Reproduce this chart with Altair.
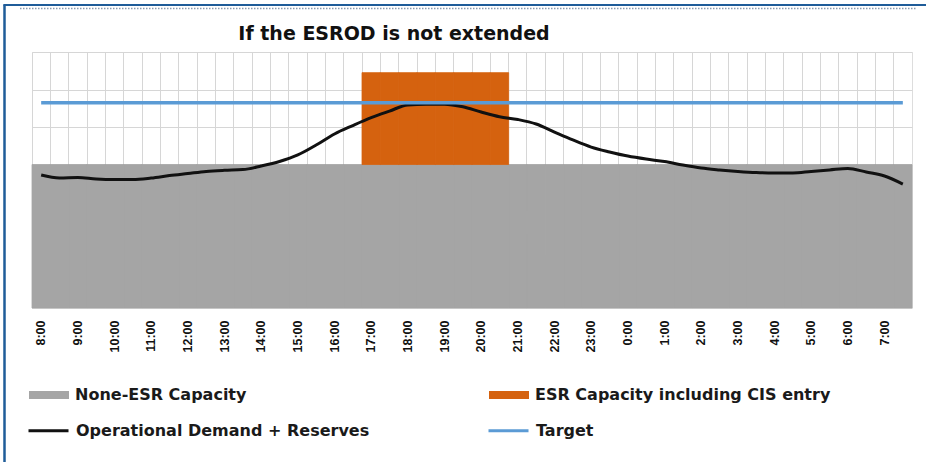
import altair as alt
import pandas as pd

times = ["8:00", "8:30", "9:00", "9:30", "10:00", "10:30", "11:00", "11:30",
         "12:00", "12:30", "13:00", "13:30", "14:00", "14:30", "15:00", "15:30",
         "16:00", "16:30", "17:00", "17:30", "18:00", "18:30", "19:00", "19:30",
         "20:00", "20:30", "21:00", "21:30", "22:00", "22:30", "23:00", "23:30",
         "0:00", "0:30", "1:00", "1:30", "2:00", "2:30", "3:00", "3:30",
         "4:00", "4:30", "5:00", "5:30", "6:00", "6:30", "7:00", "7:30"]

non_esr_capacity = [40000, 40000, 40000, 40000, 40000, 40000, 40000, 40000,
                    40000, 40000, 40000, 40000, 40000, 40000, 40000, 40000,
                    40000, 40000, 40000, 40000, 40000, 40000, 40000, 40000,
                    40000, 40000, 40000, 40000, 40000, 40000, 40000, 40000,
                    40000, 40000, 40000, 40000, 40000, 40000, 40000, 40000,
                    40000, 40000, 40000, 40000, 40000, 40000, 40000, 40000]

esr_capacity = [0, 0, 0, 0, 0, 0, 0, 0,
                0, 0, 0, 0, 0, 0, 0, 0,
                0, 0, 4900, 4900, 4900, 4900, 4900, 4900,
                4900, 4900, 0, 0, 0, 0, 0, 0,
                0, 0, 0, 0, 0, 0, 0, 0,
                0, 0, 0, 0, 0, 0, 0, 0]

demand = [39440, 39280, 39310, 39230, 39200, 39200, 39280, 39410,
          39520, 39630, 39690, 39730, 39920, 40160, 40510, 41040,
          41630, 42080, 42500, 42850, 43180, 43220, 43220, 43080,
          42800, 42550, 42400, 42160, 41730, 41310, 40930, 40670,
          40450, 40290, 40160, 39970, 39810, 39710, 39630, 39570,
          39550, 39550, 39630, 39710, 39790, 39600, 39390, 38960]

target = [43300, 43300, 43300, 43300, 43300, 43300, 43300, 43300,
          43300, 43300, 43300, 43300, 43300, 43300, 43300, 43300,
          43300, 43300, 43300, 43300, 43300, 43300, 43300, 43300,
          43300, 43300, 43300, 43300, 43300, 43300, 43300, 43300,
          43300, 43300, 43300, 43300, 43300, 43300, 43300, 43300,
          43300, 43300, 43300, 43300, 43300, 43300, 43300, 43300]

area_names = ["None-ESR Capacity", "ESR Capacity including CIS entry"]
area_colors = ["#a5a5a5", "#d5620f"]
line_names = ["Operational Demand + Reserves", "Target"]
line_colors = ["#111111", "#5b9bd5"]
grid_values = [40000, 42000, 44000, 46000]
title_text = "If the ESROD is not extended"

Y_MIN = 32350
Y_MAX = 46000
GRID = "#d6d6d6"

# ---- tables ----
gray_df = pd.DataFrame({"time": times, "series": area_names[0],
                        "base": Y_MIN, "top": non_esr_capacity})
orange_rows = [{"time": t, "series": area_names[1], "base": ne, "top": ne + es}
               for t, ne, es in zip(times, non_esr_capacity, esr_capacity) if es > 0]
orange_df = pd.DataFrame(orange_rows)
demand_df = pd.DataFrame({"time": times, "value": demand, "series": line_names[0]})
target_df = pd.DataFrame({"time": times, "value": target, "series": line_names[1]})
frame_df = pd.DataFrame({"a": [0]})

x_enc = alt.X(
    "time:N",
    scale=alt.Scale(domain=times, paddingInner=0, paddingOuter=0),
    axis=alt.Axis(
        title=None, labelAngle=-90,
        labelExpr="indexof(datum.value, ':30') >= 0 ? '' : datum.value",
        ticks=False, domain=False, grid=True, gridColor=GRID, gridWidth=1,
        bandPosition=0, labelPadding=12, labelFont="Liberation Sans",
        labelFontSize=12.5, labelFontWeight="bold", labelColor="#111111",
    ),
)
y_scale = alt.Scale(domain=[Y_MIN, Y_MAX], nice=False, zero=False)
y_axis = alt.Axis(title=None, labels=False, ticks=False, domain=False, grid=True,
                  values=grid_values, gridColor=GRID, gridWidth=1)

legend_common = dict(
    title=None, orient="none", columns=2, padding=0,
    labelFont="DejaVu Sans", labelFontSize=16, labelFontWeight="bold",
    labelColor="#1a1a1a", labelOffset=6, labelLimit=400, symbolSize=1600,
)
fill_enc = alt.Fill(
    "series:N", scale=alt.Scale(domain=area_names, range=area_colors),
    legend=alt.Legend(legendX=-3, legendY=323, columnPadding=242,
                      symbolType="M-1,-0.2H1V0.2H-1Z", symbolStrokeWidth=0,
                      **legend_common),
)
stroke_enc = alt.Stroke(
    "series:N", scale=alt.Scale(domain=line_names, range=line_colors),
    legend=alt.Legend(legendX=-5, legendY=357, columnPadding=112,
                      symbolType="stroke", symbolStrokeWidth=3, **legend_common),
)

gray_layer = alt.Chart(gray_df).mark_bar(stroke=area_colors[0], strokeWidth=0.8).encode(
    x=x_enc, y=alt.Y("top:Q", scale=y_scale, axis=y_axis), y2="base:Q", fill=fill_enc,
)
orange_layer = alt.Chart(orange_df).mark_bar(stroke=area_colors[1], strokeWidth=0.8).encode(
    x=x_enc, y=alt.Y("top:Q", scale=y_scale, axis=y_axis), y2="base:Q", fill=fill_enc,
)
demand_layer = alt.Chart(demand_df).mark_line(strokeWidth=3, interpolate="monotone").encode(
    x=x_enc, y=alt.Y("value:Q", scale=y_scale, axis=y_axis), stroke=stroke_enc,
)
target_layer = alt.Chart(target_df).mark_line(strokeWidth=3.5).encode(
    x=x_enc, y=alt.Y("value:Q", scale=y_scale, axis=y_axis), stroke=stroke_enc,
)

# decorative frame (left/top border and dotted rule)
frame_blue = "#1f5c99"
left_border = alt.Chart(frame_df).mark_rule(color=frame_blue, strokeWidth=2.5).encode(
    x=alt.value(-27.5), y=alt.value(-47.5), y2=alt.value(410))
top_border = alt.Chart(frame_df).mark_rule(color=frame_blue, strokeWidth=2).encode(
    x=alt.value(-28.5), x2=alt.value(894), y=alt.value(-47))
dotted = alt.Chart(frame_df).mark_rule(color="#8a9bb0", strokeWidth=1.5, strokeDash=[1.5, 1.5]).encode(
    x=alt.value(-12), x2=alt.value(884), y=alt.value(-43.5))

chart = alt.layer(
    gray_layer, orange_layer, demand_layer, target_layer, left_border, top_border, dotted
).properties(
    width=880, height=256,
    title=alt.TitleParams(title_text, font="DejaVu Sans", fontSize=19, fontWeight="bold",
                          color="#111111", anchor="middle", frame="group", dx=-78,
                          offset=11, dy=67, baseline="alphabetic"),
    autosize=alt.AutoSizeParams(type="none"),
    padding={"left": 32, "top": 52, "right": 14, "bottom": 154},
).configure_view(stroke=GRID, strokeWidth=1).configure(background="white")

chart.save("out.html", embed_options={"renderer": "svg", "actions": False})
